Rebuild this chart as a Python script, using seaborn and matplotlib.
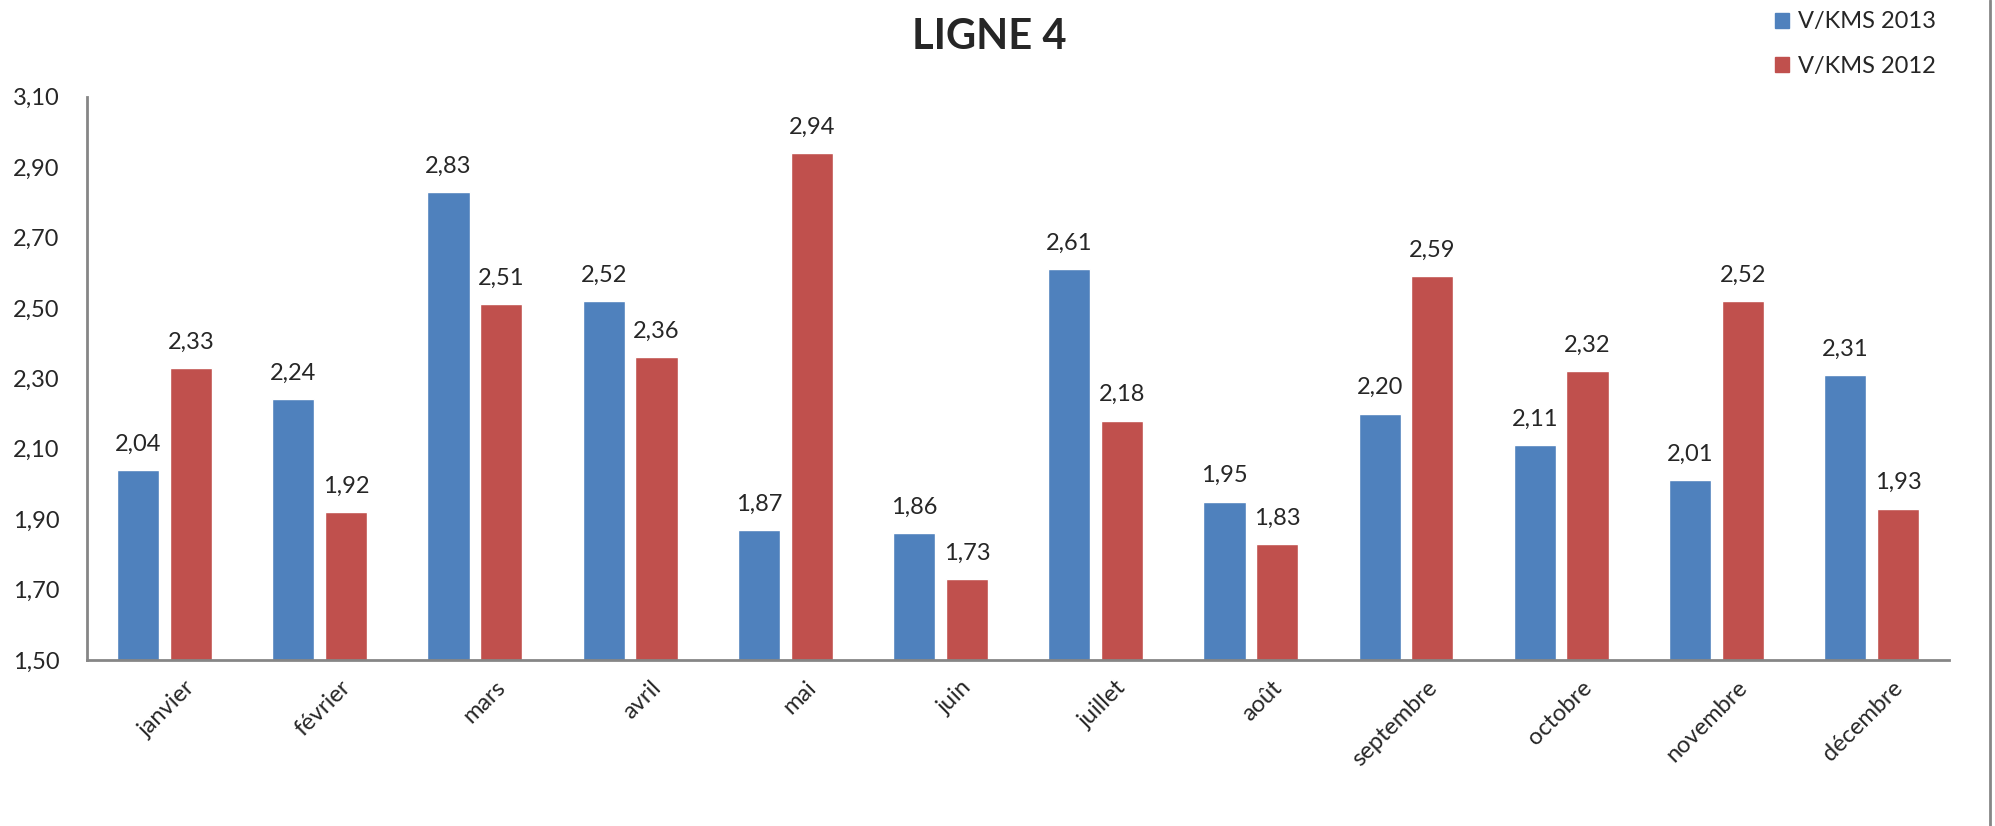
import matplotlib
matplotlib.use('Agg')
import matplotlib.pyplot as plt
import matplotlib.transforms as mtransforms
import seaborn as sns
import pandas as pd

months = ['janvier', 'février', 'mars', 'avril', 'mai', 'juin', 'juillet',
          'août', 'septembre', 'octobre', 'novembre', 'décembre']
vkms_2013 = [2.04, 2.24, 2.83, 2.52, 1.87, 1.86, 2.61, 1.95, 2.20, 2.11, 2.01, 2.31]
vkms_2012 = [2.33, 1.92, 2.51, 2.36, 2.94, 1.73, 2.18, 1.83, 2.59, 2.32, 2.52, 1.93]
series = ['V/KMS 2013', 'V/KMS 2012']
yticks = [1.5, 1.7, 1.9, 2.1, 2.3, 2.5, 2.7, 2.9, 3.1]

df = pd.DataFrame({
    'mois': months * 2,
    'valeur': vkms_2013 + vkms_2012,
    'serie': [series[0]] * 12 + [series[1]] * 12,
})

sns.set_style('white')
plt.rcParams['font.family'] = ['Lato', 'DejaVu Sans']

fig = plt.figure(figsize=(19.95, 8.26), dpi=100)
ax = fig.add_axes([0.0436, 0.201, 0.9334, 0.682])

sns.barplot(data=df, x='mois', y='valeur', hue='serie', order=months,
            hue_order=series, palette=['#4F81BD', '#C0504D'],
            width=0.68, gap=0.2, errorbar=None, saturation=1,
            legend=False, ax=ax)

for cont in ax.containers:
    ax.bar_label(cont, labels=[f'{b.get_height():.2f}'.replace('.', ',') for b in cont],
                 padding=11, fontsize=17)

ax.set_ylim(1.5, 3.1)
ax.set_xlim(-0.5, 11.5)
ax.set_yticks(yticks)
ax.set_yticklabels([f'{v:.2f}'.replace('.', ',') for v in yticks], fontsize=17)
ax.tick_params(axis='y', length=0, pad=20)
ax.tick_params(axis='x', length=0)
ax.set_xlabel('')
ax.set_ylabel('')

offset = mtransforms.ScaledTranslation(0.2, -0.12, fig.dpi_scale_trans)
ax.set_xticks(range(len(months)))
ax.set_xticklabels(months, rotation=45, ha='right', rotation_mode='anchor', fontsize=17)
for lbl in ax.get_xticklabels():
    lbl.set_transform(lbl.get_transform() + offset)

for side in ['top', 'right']:
    ax.spines[side].set_visible(False)
for side in ['left', 'bottom']:
    ax.spines[side].set_color('#868686')
    ax.spines[side].set_linewidth(2)

fig.text(0.496, 0.955, 'LIGNE 4', ha='center', va='center',
         fontsize=30, fontweight='bold')

handles = [plt.Rectangle((0, 0), 1, 1, color=c) for c in ['#4F81BD', '#C0504D']]
fig.legend(handles, series, loc='upper left', bbox_to_anchor=(0.879, 1.012),
           frameon=False, fontsize=17, handlelength=0.6, handleheight=0.6,
           handletextpad=0.4, labelspacing=1.0)

fig.add_artist(plt.Line2D([0.9975, 0.9975], [0, 1], color='#868686', linewidth=2))

fig.savefig('out.png', dpi=100)
